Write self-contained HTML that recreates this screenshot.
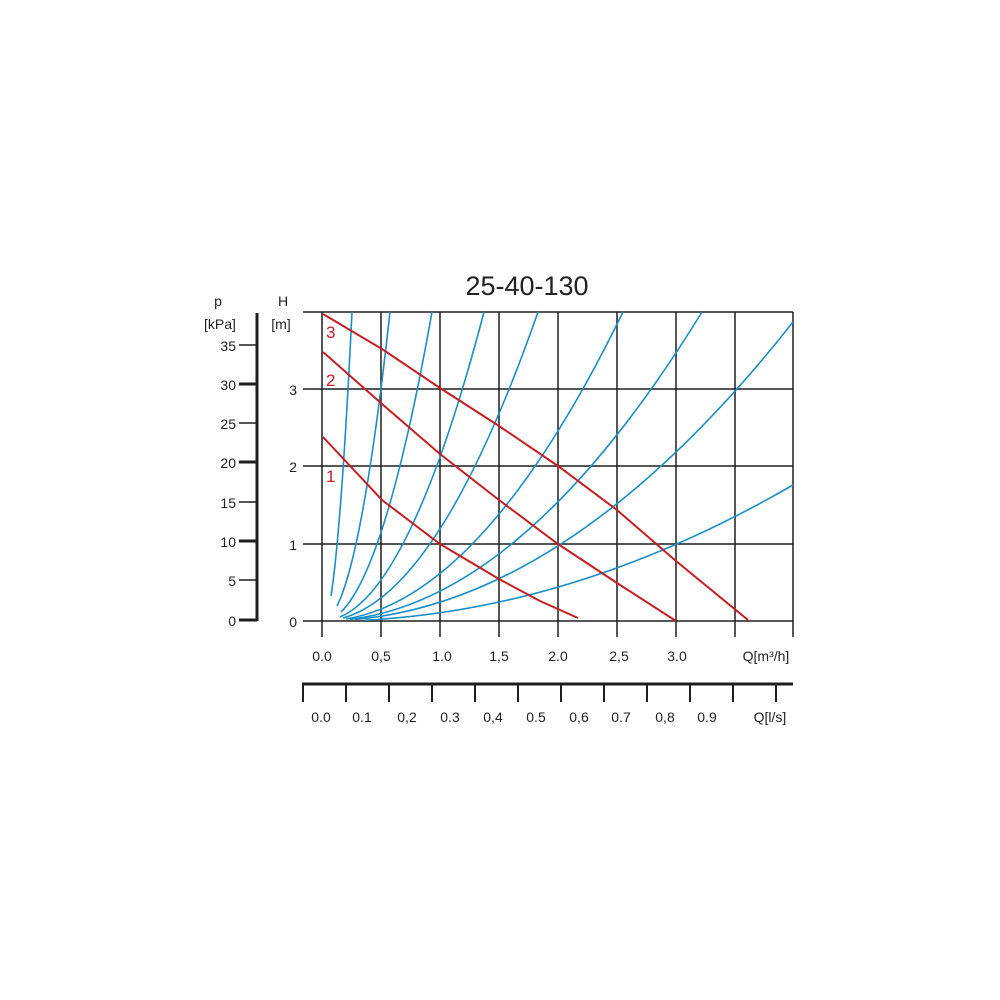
<!DOCTYPE html>
<html><head><meta charset="utf-8"><style>
html,body{margin:0;padding:0;background:#fff;}
svg{display:block;font-family:"Liberation Sans",sans-serif;}
</style></head><body>
<svg width="1000" height="1000" viewBox="0 0 1000 1000" xmlns="http://www.w3.org/2000/svg">
<rect width="1000" height="1000" fill="#fff"/>
<text x="527" y="295" font-size="27" text-anchor="middle" fill="#222">25-40-130</text>
<!-- grid -->
<g stroke="#1e1e1e" stroke-width="1.5">
<line x1="303" y1="312" x2="793" y2="312"/>
<line x1="303" y1="389" x2="793" y2="389"/>
<line x1="303" y1="466" x2="793" y2="466"/>
<line x1="303" y1="544" x2="793" y2="544"/>
<line x1="303" y1="621" x2="793" y2="621"/>
<line x1="322" y1="312" x2="322" y2="637"/>
<line x1="381" y1="312" x2="381" y2="637"/>
<line x1="440" y1="312" x2="440" y2="637"/>
<line x1="499" y1="312" x2="499" y2="637"/>
<line x1="558" y1="312" x2="558" y2="637"/>
<line x1="617" y1="312" x2="617" y2="637"/>
<line x1="676" y1="312" x2="676" y2="637"/>
<line x1="735" y1="312" x2="735" y2="637"/>
<line x1="793" y1="312" x2="793" y2="637"/>
</g>
<!-- blue curves -->
<g stroke="#1b8ec6" stroke-width="1.6" fill="none">
<path d="M331,596 Q341.5,528 352,312"/>
<path d="M337,606 Q363.5,553 390,312"/>
<path d="M341,612 Q386.5,568 432,312"/>
<path d="M340,617 Q412,586.7 484,312"/>
<path d="M343,618 Q440.5,591 538,312"/>
<path d="M346,619 Q484.5,596.3 623,312"/>
<path d="M350,619.3 Q526,598.2 702,312"/>
<path d="M355,619.5 Q574,600 793,322"/>
<path d="M365,620.2 Q579,608.9 793,485"/>
</g>
<!-- red curves -->
<g stroke="#c41e24" stroke-width="2" fill="none">
<path d="M323,314 L382,349 L440,388 L499,426 L558,466 L617,510 L676,561 L748,620"/>
<path d="M323,352 L382,404 L440,454 L499,500 L558,544 L617,583 L676,621"/>
<path d="M323,437 L382,500 L440,544 L499,579 L540,601 L578,618"/>
</g>
<g fill="#c41e24" font-size="17">
<text x="326" y="338">3</text>
<text x="326" y="386">2</text>
<text x="326" y="482">1</text>
</g>
<!-- left axes -->
<g fill="#222" font-size="14">
<text x="218" y="306" text-anchor="middle">p</text>
<text x="220" y="329" text-anchor="middle">[kPa]</text>
<text x="283" y="306" text-anchor="middle">H</text>
<text x="281" y="329" text-anchor="middle">[m]</text>
<text x="236" y="351" text-anchor="end">35</text>
<text x="236" y="390" text-anchor="end">30</text>
<text x="236" y="429" text-anchor="end">25</text>
<text x="236" y="468" text-anchor="end">20</text>
<text x="236" y="508" text-anchor="end">15</text>
<text x="236" y="547" text-anchor="end">10</text>
<text x="236" y="586" text-anchor="end">5</text>
<text x="236" y="626" text-anchor="end">0</text>
<text x="297" y="395" text-anchor="end">3</text>
<text x="297" y="472" text-anchor="end">2</text>
<text x="297" y="550" text-anchor="end">1</text>
<text x="297" y="627" text-anchor="end">0</text>
</g>
<g stroke="#1e1e1e">
<line x1="257" y1="313" x2="257" y2="621" stroke-width="3"/>
<line x1="239" y1="345" x2="257" y2="345" stroke-width="1.5"/>
<line x1="239" y1="384" x2="257" y2="384" stroke-width="3"/>
<line x1="239" y1="423" x2="257" y2="423" stroke-width="1.5"/>
<line x1="239" y1="462" x2="257" y2="462" stroke-width="3"/>
<line x1="239" y1="502" x2="257" y2="502" stroke-width="1.5"/>
<line x1="239" y1="541" x2="257" y2="541" stroke-width="3"/>
<line x1="239" y1="580" x2="257" y2="580" stroke-width="1.5"/>
<line x1="239" y1="620" x2="257" y2="620" stroke-width="3"/>
</g>
<!-- Q m3/h labels -->
<g fill="#222" font-size="14" text-anchor="middle">
<text x="322" y="661">0.0</text>
<text x="381" y="661">0,5</text>
<text x="442" y="661">1.0</text>
<text x="499" y="661">1,5</text>
<text x="558" y="661">2.0</text>
<text x="619" y="661">2,5</text>
<text x="677" y="661">3.0</text>
<text x="766" y="661">Q[m³/h]</text>
</g>
<!-- l/s axis -->
<g stroke="#1e1e1e">
<line x1="302" y1="684" x2="793" y2="684" stroke-width="3"/>
<g stroke-width="2">
<line x1="303" y1="684" x2="303" y2="702"/>
<line x1="346" y1="684" x2="346" y2="702"/>
<line x1="389" y1="684" x2="389" y2="702"/>
<line x1="432" y1="684" x2="432" y2="702"/>
<line x1="475" y1="684" x2="475" y2="702"/>
<line x1="518" y1="684" x2="518" y2="702"/>
<line x1="561" y1="684" x2="561" y2="702"/>
<line x1="604" y1="684" x2="604" y2="702"/>
<line x1="647" y1="684" x2="647" y2="702"/>
<line x1="690" y1="684" x2="690" y2="702"/>
<line x1="733" y1="684" x2="733" y2="702"/>
<line x1="776" y1="684" x2="776" y2="702"/>
</g>
</g>
<g fill="#222" font-size="14" text-anchor="middle">
<text x="321" y="722">0.0</text>
<text x="362" y="722">0.1</text>
<text x="407" y="722">0,2</text>
<text x="450" y="722">0.3</text>
<text x="493" y="722">0,4</text>
<text x="536" y="722">0.5</text>
<text x="579" y="722">0,6</text>
<text x="621" y="722">0.7</text>
<text x="665" y="722">0,8</text>
<text x="707" y="722">0.9</text>
<text x="770" y="722">Q[l/s]</text>
</g>
</svg>
</body></html>
